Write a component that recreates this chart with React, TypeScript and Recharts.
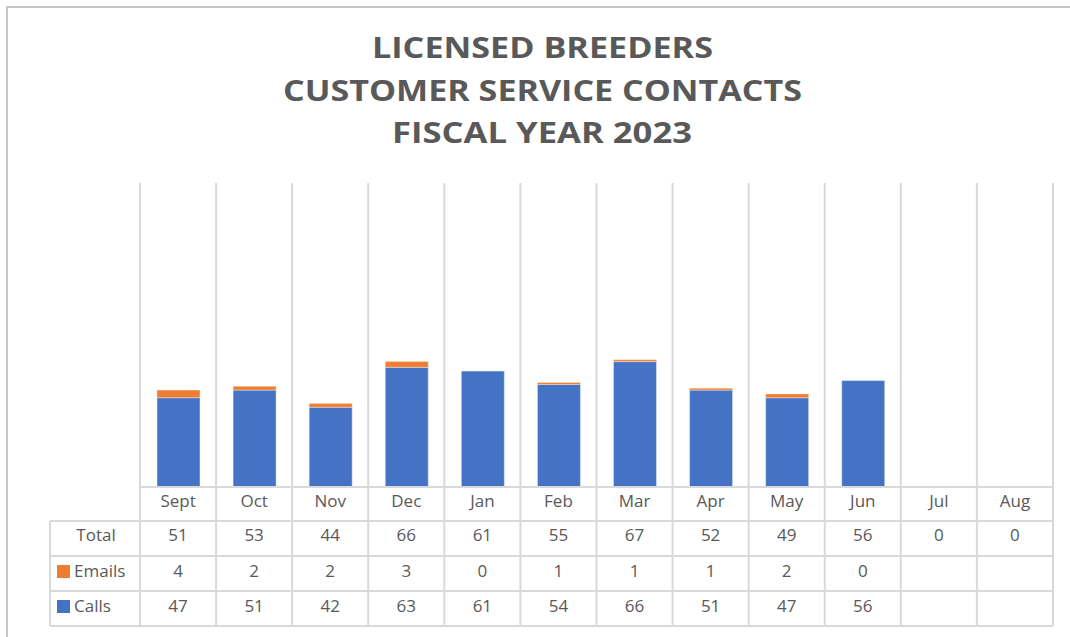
import { Bar, BarChart, CartesianGrid, XAxis, YAxis } from 'recharts';

const months = ['Sept', 'Oct', 'Nov', 'Dec', 'Jan', 'Feb', 'Mar', 'Apr', 'May', 'Jun', 'Jul', 'Aug'];
const calls: (number | null)[] = [47, 51, 42, 63, 61, 54, 66, 51, 47, 56, null, null];
const emails: (number | null)[] = [4, 2, 2, 3, 0, 1, 1, 1, 2, 0, null, null];
const totals = [51, 53, 44, 66, 61, 55, 67, 52, 49, 56, 0, 0];

const titleLines = ['LICENSED BREEDERS', 'CUSTOMER SERVICE CONTACTS', 'FISCAL YEAR 2023'];

const data = months.map((month, i) => ({ month, calls: calls[i], emails: emails[i] }));

const W = 1070;
const H = 637;
const plotLeft = 140;
const plotRight = 1053;
const plotTop = 183;
const plotBottom = 487;
const tableLeft = 50;
const colW = (plotRight - plotLeft) / months.length;
const rowLines = [521, 556, 591, 626];
const gridColor = '#d9d9d9';
const textColor = '#595959';
const blue = '#4472C4';
const orange = '#ED7D31';
const font = '"Open Sans", "Noto Sans", sans-serif';
const tableFont = 17;

// title widths
const titleBoxes = [
  { x: 372, w: 341, y: 58 },
  { x: 283, w: 519, y: 101 },
  { x: 392, w: 300, y: 143 },
];

function TableOverlay() {
  const rows = [
    { label: 'Total', values: totals.map((v) => String(v)), y: 535 },
    { label: 'Emails', values: emails.map((v) => (v == null ? '' : String(v))), y: 571, swatch: orange },
    { label: 'Calls', values: calls.map((v) => (v == null ? '' : String(v))), y: 606, swatch: blue },
  ];
  return (
    <svg width={W} height={H} style={{ position: 'absolute', left: 0, top: 0, pointerEvents: 'none' }}>
      {titleLines.map((t, i) => (
        <text
          key={t}
          x={titleBoxes[i].x}
          y={titleBoxes[i].y}
          textLength={titleBoxes[i].w}
          lengthAdjust="spacingAndGlyphs"
          fontFamily={font}
          fontWeight={700}
          fontSize={29}
          fill={textColor}
        >
          {t}
        </text>
      ))}
      {/* table grid */}
      <line x1={plotLeft} x2={plotRight} y1={plotBottom} y2={plotBottom} stroke={gridColor} strokeWidth={2} />
      {rowLines.map((y) => (
        <line key={y} x1={tableLeft} x2={plotRight} y1={y} y2={y} stroke={gridColor} strokeWidth={2} />
      ))}
      <line x1={tableLeft} x2={tableLeft} y1={rowLines[0]} y2={rowLines[3]} stroke={gridColor} strokeWidth={2} />
      {Array.from({ length: months.length + 1 }, (_, i) => plotLeft + i * colW).map((x) => (
        <line key={x} x1={x} x2={x} y1={plotBottom} y2={rowLines[3]} stroke={gridColor} strokeWidth={2} />
      ))}
      {rows.map((r) => (
        <g key={r.label} fontFamily={font} fontSize={tableFont} fill={textColor}>
          {r.swatch ? (
            <>
              <rect x={57} y={r.y - 6} width={13} height={13} fill={r.swatch} />
              <text x={74} y={r.y + 6}>{r.label}</text>
            </>
          ) : (
            <text x={96} y={r.y + 6} textAnchor="middle">
              {r.label}
            </text>
          )}
          {r.values.map((v, i) => (
            <text key={i} x={plotLeft + (i + 0.5) * colW} y={r.y + 6} textAnchor="middle">
              {v}
            </text>
          ))}
        </g>
      ))}
    </svg>
  );
}

export default function App() {
  return (
    <div style={{ position: 'absolute', left: 0, top: 0, width: W, height: H, background: '#fff', overflow: 'hidden' }}>
      <div
        style={{
          position: 'absolute',
          left: 6,
          top: 6,
          width: W,
          height: H,
          borderTop: '2px solid #c6c6c6',
          borderLeft: '2px solid #c6c6c6',
        }}
      />
      <BarChart
        width={W}
        height={H}
        data={data}
        margin={{ top: plotTop, right: W - plotRight, bottom: H - plotBottom - 34, left: plotLeft }}
        barSize={43}
      >
        <CartesianGrid
          horizontal={false}
          stroke={gridColor}
          strokeWidth={2}
          verticalCoordinatesGenerator={({ offset }: any) =>
            Array.from({ length: months.length + 1 }, (_, i) => offset.left + (i * offset.width) / months.length)
          }
        />
        <XAxis
          dataKey="month"
          axisLine={false}
          tickLine={false}
          height={34}
          interval={0}
          tickMargin={2}
          tick={{ fill: textColor, fontSize: tableFont, fontFamily: font }}
        />
        <YAxis hide domain={[0, 160]} />
        <Bar dataKey="calls" stackId="a" fill={blue} stroke="#e8eef8" strokeWidth={0.5} isAnimationActive={false} />
        <Bar dataKey="emails" stackId="a" fill={orange} stroke="#fbe5d6" strokeWidth={0.5} isAnimationActive={false} />
      </BarChart>
      <TableOverlay />
    </div>
  );
}
